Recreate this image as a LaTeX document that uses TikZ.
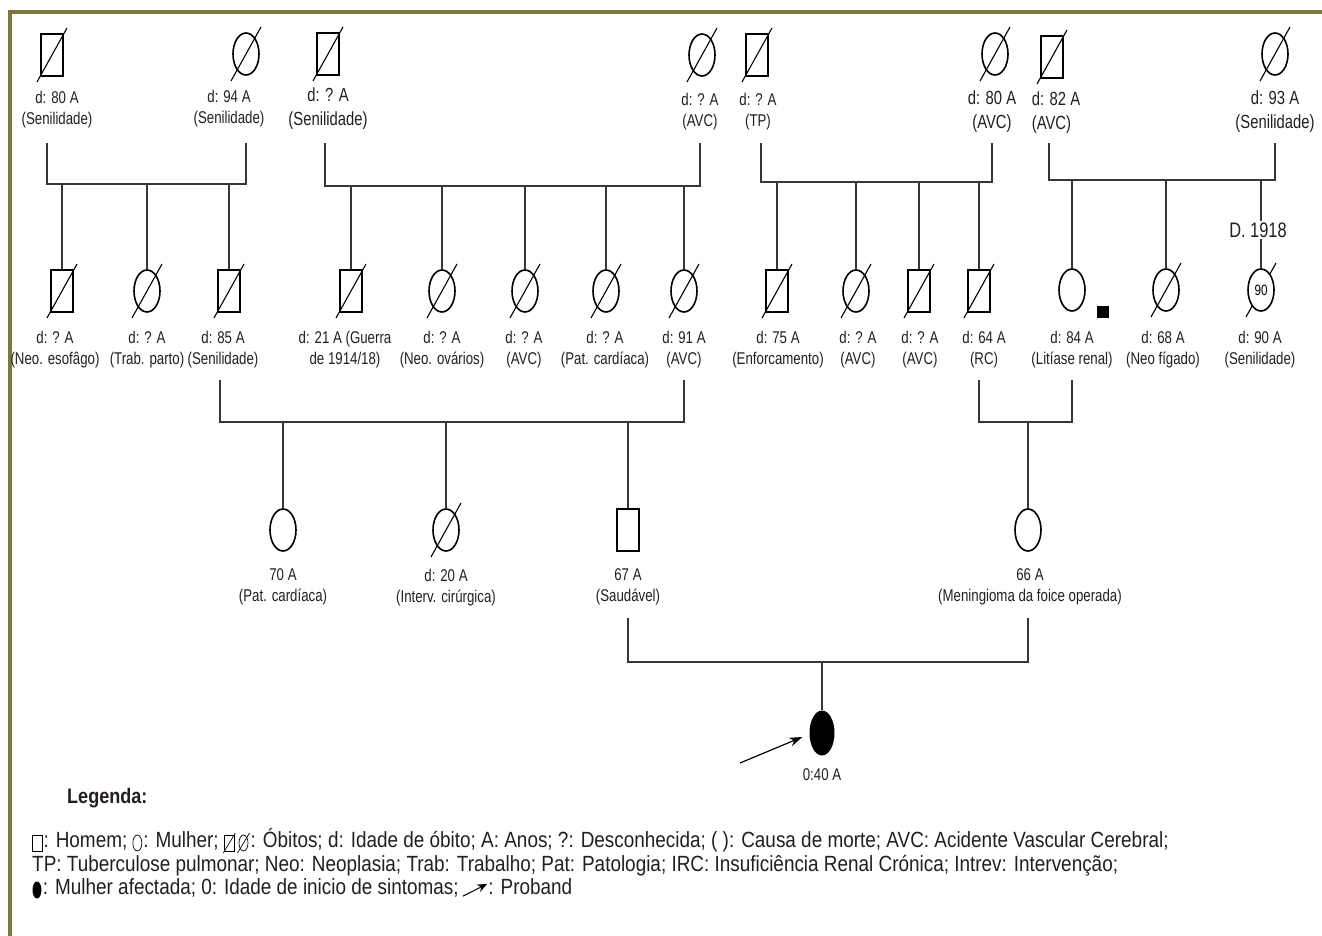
\documentclass[tikz,border=0pt]{standalone}
\usepackage{fontspec}
\setmainfont{Liberation Sans}[FakeStretch=0.78]
\newfontfamily\legfam{Liberation Sans}[FakeStretch=0.86]
\usepackage{tikz}
\usetikzlibrary{arrows.meta,positioning,calc,shapes.geometric}
\definecolor{moldol}{RGB}{122,122,58}
\definecolor{lnk}{RGB}{55,55,55}
\definecolor{ink}{RGB}{35,31,32}
\newcommand{\lab}{\fontsize{17}{21}\selectfont}
\newcommand{\labG}{\fontsize{19}{24}\selectfont}
\newcommand{\legf}{\legfam\fontsize{22}{24}\selectfont}
\newcommand{\obito}[1]{%
  \draw[diag] ($(#1.center)+(-15,27)$) -- ($(#1.center)+(15,-27)$);}
\newcommand{\obitop}[1]{%
  \draw[diagp] ($(#1.center)+(-6,10)$) -- ($(#1.center)+(6,-10)$);}
\tikzset{
  homem/.style={rectangle, draw=black, line width=1.6pt, minimum width=22pt, minimum height=42pt, inner sep=0pt},
  mulher/.style={ellipse, draw=black, line width=1.6pt, minimum width=26pt, minimum height=42pt, inner sep=0pt},
  afect/.style={ellipse, fill=black, minimum width=25pt, minimum height=45pt, inner sep=0pt},
  sqfill/.style={rectangle, fill=black, minimum size=12pt, inner sep=0pt},
  diag/.style={black, line width=1.1pt},
  diagp/.style={black, line width=0.7pt},
  tie/.style={lnk, line width=1.2pt},
  lab/.style={font=\lab, text=ink, align=center, inner sep=0pt},
  seta/.style={-{Stealth[length=13pt, width=9pt]}, black, line width=1.2pt},
  moldura/.style={moldol, line width=3.2pt},
  legtxt/.style={font=\legf, text=ink, inner sep=0pt, text height=13pt, text depth=4pt},
  legb/.style={font=\legfam\fontsize{21}{24}\selectfont\bfseries, text=ink, inner sep=0pt},
  homemp/.style={rectangle, draw=black, line width=0.7pt, minimum width=10pt, minimum height=16pt, inner sep=0pt},
  mulherp/.style={ellipse, draw=black, line width=0.7pt, minimum width=9pt, minimum height=16pt, inner sep=0pt},
  afectp/.style={ellipse, fill=black, minimum width=9pt, minimum height=17pt, inner sep=0pt},
}

\begin{document}
\begin{tikzpicture}[x=1pt, y=-1pt]
\useasboundingbox (0,0) rectangle (1322,936);
\draw[moldura] (1322,12) -- (10,12) -- (10,936);

%---- geracao I
\node[homem]  (g1a) at (52,55) {};
\node[mulher] (g1b) at (246,54) {};
\node[homem]  (g1c) at (328,54) {};
\node[mulher] (g1d) at (702,55) {};
\node[homem]  (g1e) at (757,55) {};
\node[mulher] (g1f) at (995,54) {};
\node[homem]  (g1g) at (1052,57) {};
\node[mulher] (g1h) at (1275,54) {};
\foreach \n in {g1a,g1b,g1c,g1d,g1e,g1f,g1g,g1h} {\obito{\n}}

\node[lab, below=14pt of g1a, xshift=5pt]  (g1at) {d: 80 A\\(Senilidade)};
\node[lab, below=14pt of g1b, xshift=-17pt] (g1bt) {d: 94 A\\(Senilidade)};
\node[lab, font=\labG, below=12pt of g1c] (g1ct) {d: ? A\\(Senilidade)};
\node[lab, below=16pt of g1d, xshift=-2pt] (g1dt) {d: ? A\\(AVC)};
\node[lab, below=16pt of g1e, xshift=1pt]  (g1et) {d: ? A\\(TP)};
\node[lab, font=\labG, below=15pt of g1f, xshift=-3pt] (g1ft) {d: 80 A\\(AVC)};
\node[lab, font=\labG, align=left, below=13pt of g1g, xshift=4pt] (g1gt) {d: 82 A\\(AVC)};
\node[lab, font=\labG, below=15pt of g1h] (g1ht) {d: 93 A\\(Senilidade)};

\coordinate (cA) at (147,184);
\coordinate (cB) at (500,186);
\coordinate (cC) at (880,182);
\coordinate (cD) at (1160,180);
\draw[tie] ([xshift=-5pt]g1a.center |- 0,143) |- (cA) -| (g1b.center |- 0,143);
\draw[tie] ([xshift=-3pt]g1c.center |- 0,143) |- (cB) -| ([xshift=-2pt]g1d.center |- 0,143);
\draw[tie] ([xshift=4pt]g1e.center |- 0,143) |- (cC) -| ([xshift=-3pt]g1f.center |- 0,143);
\draw[tie] ([xshift=-3pt]g1g.center |- 0,143) |- (cD) -| (g1h.center |- 0,143);

%---- geracao II
\node[homem]  (g2a) at (62,291) {};
\node[mulher] (g2b) at (147,291) {};
\node[homem]  (g2c) at (229,291) {};
\node[homem]  (g2d) at (351,291) {};
\node[mulher] (g2e) at (442,291) {};
\node[mulher] (g2f) at (525,291) {};
\node[mulher] (g2g) at (606,291) {};
\node[mulher] (g2h) at (684,291) {};
\node[homem]  (g2i) at (777,291) {};
\node[mulher] (g2j) at (856,291) {};
\node[homem]  (g2k) at (919,291) {};
\node[homem]  (g2l) at (979,291) {};
\node[mulher] (g2m) at (1072,290) {};
\node[sqfill] (g2x) at (1103,312) {};
\node[mulher] (g2n) at (1166,290) {};
\foreach \n in {g2a,g2b,g2c,g2d,g2e,g2f,g2g,g2h,g2i,g2j,g2k,g2l,g2n} {\obito{\n}}
\coordinate (c90) at (1261,290);
\obito{c90}
\node[mulher, fill=white, font=\fontsize{15}{15}\selectfont] (g2o) at (c90) {90};

\foreach \c in {g2a,g2b,g2c} {\draw[tie] (\c |- cA) -- (\c.north);}
\foreach \c in {g2d,g2e,g2f,g2g,g2h} {\draw[tie] (\c |- cB) -- (\c.north);}
\foreach \c in {g2i,g2j,g2k,g2l} {\draw[tie] (\c |- cC) -- (\c.north);}
\foreach \c in {g2m,g2n,g2o} {\draw[tie] (\c |- cD) -- (\c.north);}
\node[lab, font=\fontsize{21}{24}\selectfont, fill=white, inner sep=2pt] (d1918) at (1258,230) {D. 1918};

\node[lab, below=18pt of g2a, xshift=-7pt] (g2at) {d: ? A\\(Neo. esofâgo)};
\node[lab, below=18pt of g2b] (g2bt) {d: ? A\\(Trab. parto)};
\node[lab, below=18pt of g2c, xshift=-6pt] (g2ct) {d: 85 A\\(Senilidade)};
\node[lab, below=18pt of g2d, xshift=-6pt] (g2dt) {d: 21 A (Guerra\\de 1914/18)};
\node[lab, below=18pt of g2e] (g2et) {d: ? A\\(Neo. ovários)};
\node[lab, below=18pt of g2f, xshift=-1pt] (g2ft) {d: ? A\\(AVC)};
\node[lab, below=18pt of g2g, xshift=-1pt] (g2gt) {d: ? A\\(Pat. cardíaca)};
\node[lab, below=18pt of g2h] (g2ht) {d: 91 A\\(AVC)};
\node[lab, below=18pt of g2i, xshift=1pt] (g2it) {d: 75 A\\(Enforcamento)};
\node[lab, below=18pt of g2j, xshift=2pt] (g2jt) {d: ? A\\(AVC)};
\node[lab, below=18pt of g2k, xshift=1pt] (g2kt) {d: ? A\\(AVC)};
\node[lab, below=18pt of g2l, xshift=5pt] (g2lt) {d: 64 A\\(RC)};
\node[lab, below=19pt of g2m] (g2mt) {d: 84 A\\(Litíase renal)};
\node[lab, below=19pt of g2n, xshift=-3pt] (g2nt) {d: 68 A\\(Neo fígado)};
\node[lab, below=19pt of g2o, xshift=-1pt] (g2ot) {d: 90 A\\(Senilidade)};

\coordinate (cP) at (450,422);
\coordinate (cM) at (1025,422);
\draw[tie] ([xshift=-9pt]g2c.center |- 0,380) |- (cP) -| (g2h.center |- 0,380);
\draw[tie] (g2l.center |- 0,380) |- (cM) -| (g2m.center |- 0,380);

%---- geracao III
\node[mulher] (g3a) at (283,530) {};
\node[mulher] (g3b) at (446,530) {};
\node[homem]  (g3c) at (628,530) {};
\node[mulher] (g3d) at (1028,530) {};
\obito{g3b}
\foreach \c in {g3a,g3b,g3c} {\draw[tie] (\c |- cP) -- (\c.north);}
\draw[tie] (g3d |- cM) -- (g3d.north);

\node[lab, below=17pt of g3a] (g3at) {70 A\\(Pat. cardíaca)};
\node[lab, below=17pt of g3b] (g3bt) {d: 20 A\\(Interv. cirúrgica)};
\node[lab, below=17pt of g3c] (g3ct) {67 A\\(Saudável)};
\node[lab, below=17pt of g3d, xshift=2pt] (g3dt) {66 A\\(Meningioma da foice operada)};

%---- proband
\coordinate (cF) at (822,662);
\node[afect] (prob) at (822,733) {};
\draw[tie] (g3c.center |- 0,618) |- (cF) -| (g3d.center |- 0,618);
\draw[tie] (cF) -- (prob.north);
\node[lab, below=13pt of prob] (probt) {0:40 A};
\coordinate (setaIni) at (740,763);
\draw[seta] (setaIni) -- ([xshift=-7pt, yshift=-4pt]prob.west);

%---- legenda
\node[legb, anchor=west] (leg) at (67,798) {Legenda:};
\node[homemp] (k1) at (37,843) {};
\node[legtxt, right=1pt of k1] (t1) {: Homem;};
\node[mulherp, right=5pt of t1] (k2) {};
\node[legtxt, right=1pt of k2] (t2) {: Mulher;};
\node[homemp, right=5pt of t2] (k3) {};
\node[mulherp, right=4pt of k3] (k4) {};
\obitop{k3} \obitop{k4}
\node[legtxt, right=2pt of k4] (t3) {: Óbitos; d: Idade de óbito; A: Anos; ?: Desconhecida; ( ): Causa de morte; AVC: Acidente Vascular Cerebral;};
\node[legtxt, anchor=west] (t4) at (32,867) {TP: Tuberculose pulmonar; Neo: Neoplasia; Trab: Trabalho; Pat: Patologia; IRC: Insuficiência Renal Crónica; Intrev: Intervenção;};
\node[afectp] (k5) at (37,890) {};
\node[legtxt, right=1pt of k5] (t5) {: Mulher afectada; 0: Idade de inicio de sintomas;};
\node[inner sep=0pt, minimum width=24pt, minimum height=12pt, right=4pt of t5] (k6) {};
\draw[-{Stealth[length=10pt, width=8pt]}, black, line width=1pt] (k6.south west) -- (k6.north east);
\node[legtxt, right=1pt of k6] (t6) {: Proband};
\end{tikzpicture}
\end{document}
